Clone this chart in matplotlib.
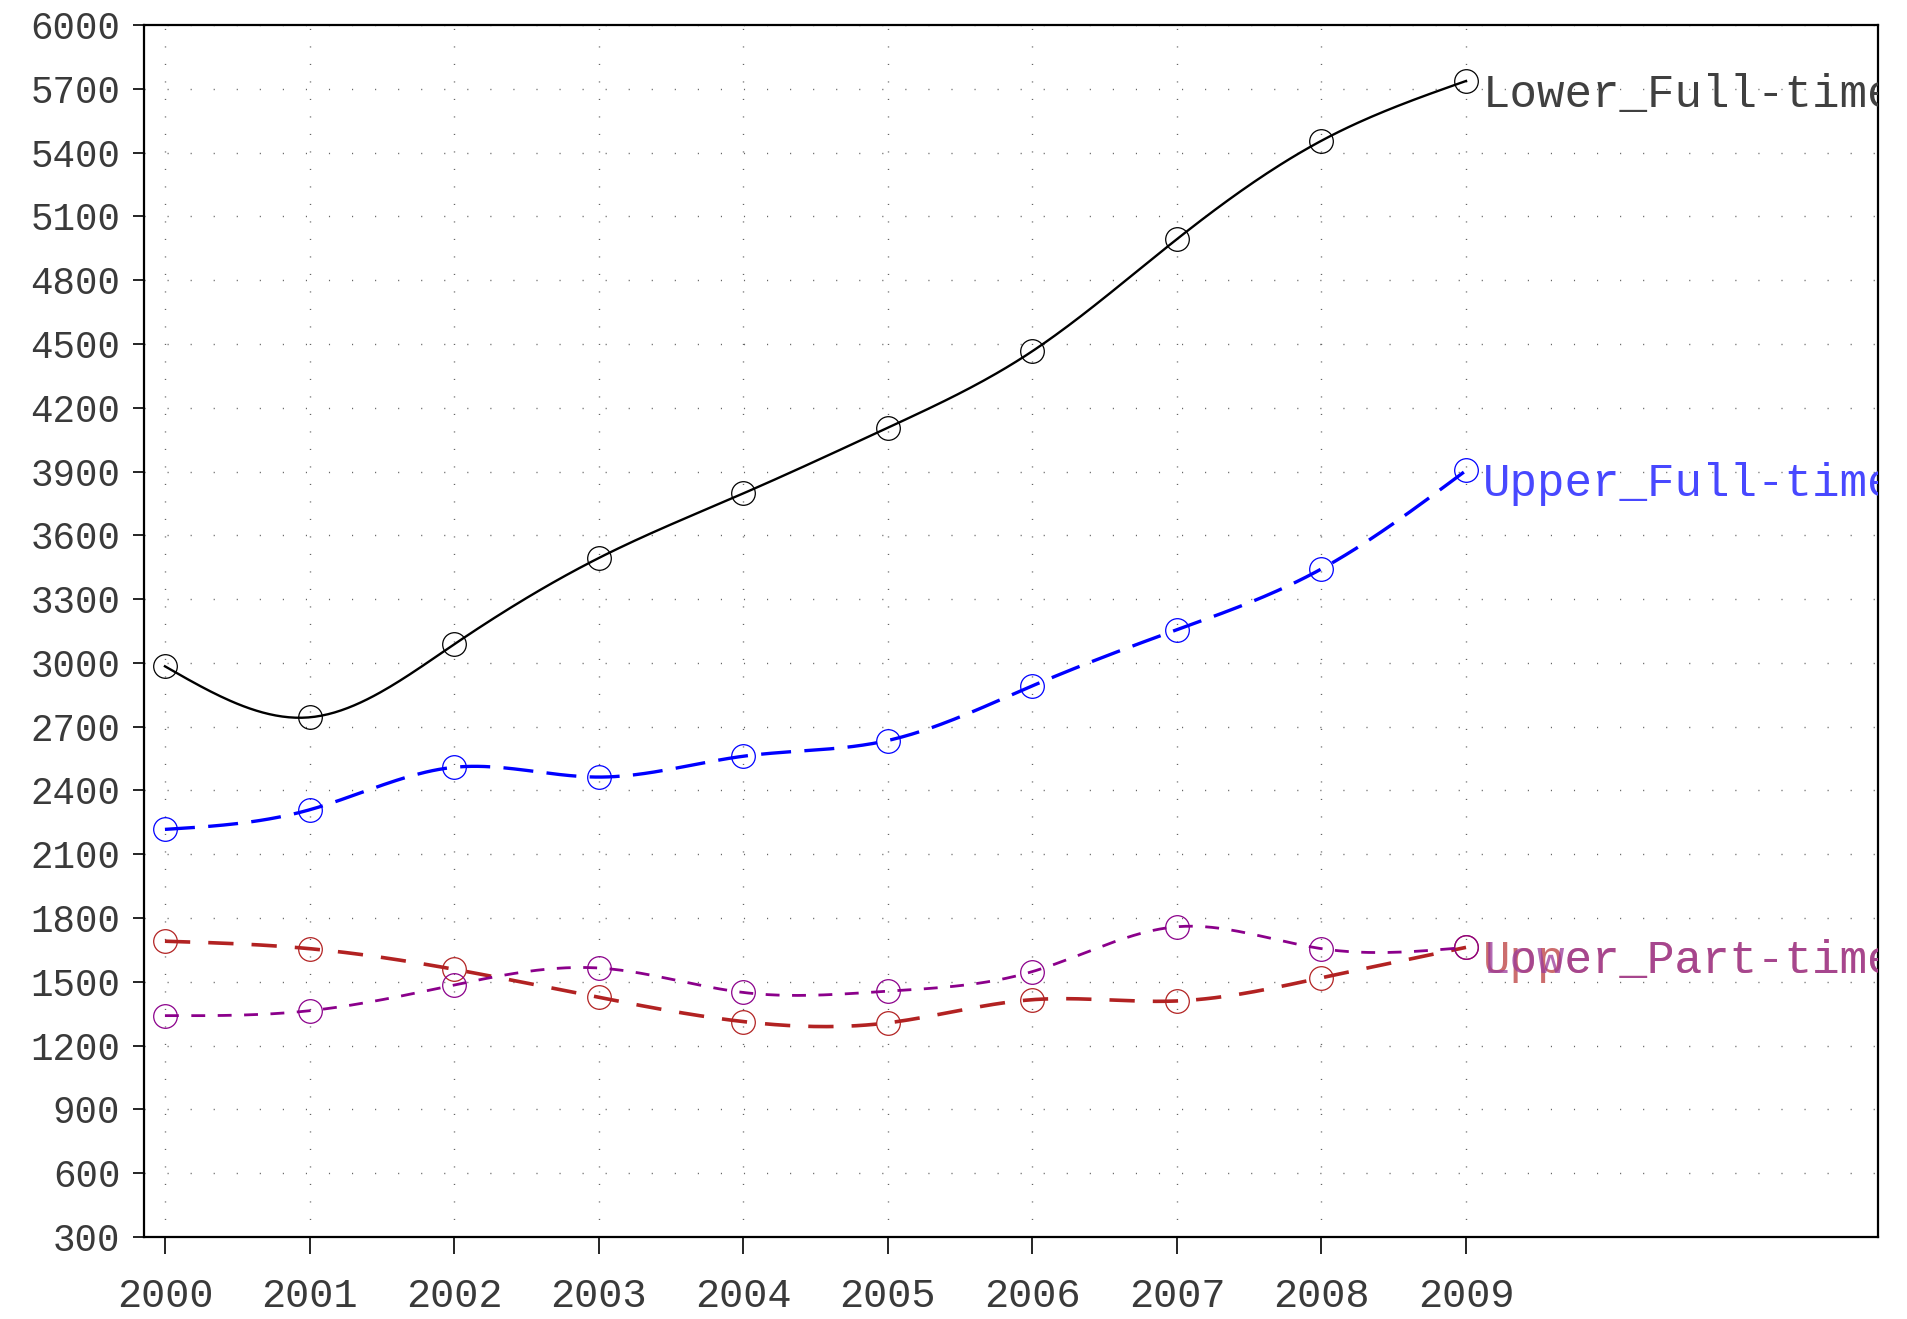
import numpy as np
import matplotlib
matplotlib.use("Agg")
import matplotlib.pyplot as plt

years = [2000, 2001, 2002, 2003, 2004, 2005, 2006, 2007, 2008, 2009]
lower_full = [2984, 2744, 3087, 3493, 3797, 4106, 4466, 4993, 5456, 5737]
upper_full = [2217, 2309, 2509, 2463, 2561, 2635, 2892, 3156, 3442, 3905]
upper_part = [1691, 1656, 1559, 1427, 1313, 1307, 1416, 1410, 1519, 1662]
lower_part = [1341, 1364, 1485, 1565, 1450, 1456, 1548, 1759, 1656, 1662]
series_names = ["Lower_Full-time", "Upper_Full-time", "Upper_Part-time", "Lower_Part-time"]
y_ticks = list(range(300, 6001, 300))


def natural_spline(x, y, xs):
    x = np.asarray(x, float)
    y = np.asarray(y, float)
    n = len(x)
    h = np.diff(x)
    A = np.zeros((n, n))
    b = np.zeros(n)
    A[0, 0] = 1
    A[-1, -1] = 1
    for i in range(1, n - 1):
        A[i, i - 1] = h[i - 1]
        A[i, i] = 2 * (h[i - 1] + h[i])
        A[i, i + 1] = h[i]
        b[i] = 6 * ((y[i + 1] - y[i]) / h[i] - (y[i] - y[i - 1]) / h[i - 1])
    M = np.linalg.solve(A, b)
    idx = np.clip(np.searchsorted(x, xs) - 1, 0, n - 2)
    x0, x1 = x[idx], x[idx + 1]
    hh = x1 - x0
    t0 = x1 - xs
    t1 = xs - x0
    return (M[idx] * t0 ** 3 / (6 * hh) + M[idx + 1] * t1 ** 3 / (6 * hh)
            + (y[idx] / hh - M[idx] * hh / 6) * t0
            + (y[idx + 1] / hh - M[idx + 1] * hh / 6) * t1)


fig = plt.figure(figsize=(19.07, 13.19), dpi=100)
ax = fig.add_axes([0.0755, 0.0622, 0.9093, 0.9188])

font = ["Liberation Mono", "DejaVu Sans Mono"]
styles = [
    dict(color="black", lw=1.7, ls="-"),
    dict(color="#0000FF", lw=2.4, ls=(0, (9, 4))),
    dict(color="#B22222", lw=2.6, ls=(0, (7, 5))),
    dict(color="#8B008B", lw=2.0, ls=(0, (5, 4.5))),
]
text_colors = ["#404040", "#4848FF", "#C04848", "#9A3A9A"]
text_alpha = [1.0, 1.0, 0.8, 0.75]
data = [lower_full, upper_full, upper_part, lower_part]

xs = np.linspace(years[0], years[-1], 400)
for vals, st, name, tc, ta in zip(data, styles, series_names, text_colors, text_alpha):
    ys = natural_spline(years, vals, xs)
    ax.plot(xs, ys, color=st["color"], lw=st["lw"], ls=st["ls"], zorder=3)
    ax.plot(years, vals, ls="none", marker="o", markersize=17, markerfacecolor="none",
            markeredgecolor=st["color"], markeredgewidth=0.9, zorder=4)
    ax.annotate(name, xy=(years[-1], vals[-1]), xytext=(12, -10), textcoords="offset points",
                ha="left", va="center", fontsize=33, color=tc, alpha=ta, family=font,
                annotation_clip=False, clip_on=True, zorder=5)

ax.set_xlim(1999.855, 2011.85)
ax.set_ylim(300, 6000)
ax.set_xticks(years)
ax.set_xticklabels([str(y) for y in years], family=font, fontsize=29)
ax.set_yticks(y_ticks)
ax.set_yticklabels([str(v) for v in y_ticks], family=font, fontsize=27)
ax.tick_params(axis="x", direction="out", length=12, width=1.2, pad=17, colors="black",
               labelcolor="#3a3a3a")
ax.tick_params(axis="y", direction="out", length=8, width=1.2, pad=9, colors="black",
               labelcolor="#3a3a3a")
for sp in ax.spines.values():
    sp.set_linewidth(1.6)

ax.grid(axis="x", color="#666666", lw=1.0, ls=(0, (0.8, 11.8)), zorder=0)
ax.grid(axis="y", color="#666666", lw=1.0, ls=(0, (0.8, 15.8)), zorder=0)

fig.savefig("out.png", dpi=100)
